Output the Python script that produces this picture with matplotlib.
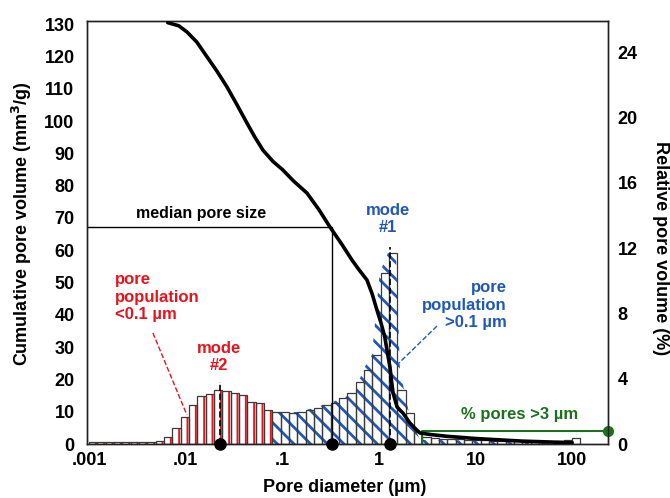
import numpy as np
import matplotlib
matplotlib.use("Agg")
import matplotlib.pyplot as plt

plt.rcParams['font.family'] = ['Liberation Sans', 'DejaVu Sans']
plt.rcParams['font.weight'] = 'bold'
plt.rcParams['axes.labelweight'] = 'bold'

RED = '#e8141c'
BLUE = '#1f58b8'
GREEN = '#1e701e'

# cumulative intrusion curve (pore diameter um, mm3/g)
curve_d = [0.0065, 0.0085, 0.0103, 0.013, 0.0166, 0.021, 0.0267, 0.034, 0.043,
           0.052, 0.063, 0.08, 0.101, 0.13, 0.18, 0.24, 0.311, 0.42, 0.525,
           0.62, 0.751, 0.85, 0.953, 1.05, 1.15, 1.22, 1.30, 1.35, 1.40,
           1.54, 1.65, 1.77, 2.09, 2.3, 2.66, 3.5, 5.0, 10.0, 30.0, 100.0]
curve_v = [130.5, 129.5, 127.6, 124.5, 119.9, 115.5, 110.6, 105.0, 99.4,
           95.0, 91.0, 87.5, 84.9, 81.5, 77.7, 72.5, 67.2, 61.5, 57.0,
           54.0, 50.8, 46.5, 41.5, 37.5, 33.1, 28.5, 23.8, 19.5, 15.8,
           11.5, 10.5, 9.6, 6.5, 5.2, 3.4, 2.9, 2.4, 1.7, 0.9, 0.4]

# relative pore volume histogram (%), log bins starting at 0.001 um
bins_per_decade = 11.6
rel_vol = [0.1, 0.1, 0.1, 0.12, 0.12, 0.12, 0.15, 0.15, 0.2,
           0.45, 0.98, 1.67, 2.39, 2.94, 3.06, 3.31, 3.26, 3.12, 3.0,
           2.59, 2.51, 2.08, 1.98, 1.98, 1.92, 1.98, 2.08, 2.2, 2.39,
           2.51, 2.82, 3.12, 3.82, 4.53, 5.45, 10.5, 11.7, 3.31, 1.9, 0.73,
           0.4, 0.35, 0.3, 0.3, 0.28, 0.25, 0.25, 0.22, 0.2, 0.2,
           0.2, 0.18, 0.18, 0.15, 0.15, 0.15, 0.18, 0.25, 0.35]
split_d = 0.08

# outline of the blue hatched population (>0.1 um)
env_d = [0.0782, 0.152, 0.311, 0.565, 0.683, 0.846, 1.02, 1.24, 1.50,
         1.65, 2.09, 2.66, 17.9, 102.0]
env_v = [1.96, 1.96, 2.51, 3.12, 4.53, 5.45, 10.5, 11.7, 11.7,
         4.5, 1.65, 0.25, 0.2, 0.15]

median_d = 0.326
median_v = 67.2
mode1_d, mode1_top = 1.30, 61.0
mode2_d, mode2_top = 0.0226, 19.3
big_d = 2.8
big_pct = 0.8

xticks = [0.001, 0.01, 0.1, 1, 10, 100]
xticklabels = ['.001', '.01', '.1', '1', '10', '100']

fig = plt.figure(figsize=(6.7, 4.98), dpi=100)
ax = fig.add_axes([87 / 670, 54 / 498, 521 / 670, 423 / 498])
ax.set_xscale('log')
ax2 = ax.twinx()
ax.set_zorder(ax2.get_zorder() + 1)
ax.patch.set_visible(False)

xmax = 235
ax.set_xlim(0.00095, xmax)
ax.set_ylim(0, 131)
ax2.set_ylim(0, 25.9)

# histogram
n = len(rel_vol)
edges = 10 ** (-3 + np.arange(n + 1) / bins_per_decade)
lefts = edges[:-1]
widths = np.diff(edges)
heights = np.array(rel_vol)
red_mask = edges[1:] <= split_d

plt.rcParams['hatch.linewidth'] = 1.4
ax2.bar(lefts[red_mask], heights[red_mask], width=widths[red_mask], align='edge',
        fill=False, hatch='||', edgecolor=RED, linewidth=0)
plt.rcParams['hatch.linewidth'] = 2.0
ax2.fill_between(env_d, env_v, 0, facecolor='none', edgecolor=BLUE,
                 hatch='\\\\', linewidth=0)
ax2.bar(lefts, heights, width=widths, align='edge', fill=False,
        edgecolor='#3a3a3a', linewidth=0.9)

# % pores > 3 um
ax2.plot([big_d, big_d, xmax], [0, big_pct, big_pct], color=GREEN, lw=1.5)
ax2.plot([xmax], [big_pct], 'o', color=GREEN, ms=7, clip_on=False, zorder=5)

# cumulative curve and median
ax.plot(curve_d, curve_v, color='black', lw=2.6, solid_capstyle='round',
        solid_joinstyle='round', zorder=4)
ax.plot([0.00095, median_d, median_d], [median_v, median_v, 0], color='black', lw=1.0)
ax.plot([mode2_d, mode2_d], [0, mode2_top], color='black', lw=1.2, ls='--')
ax.plot([mode1_d, mode1_d], [0, mode1_top], color='black', lw=1.2, ls='--')
ax.plot([mode2_d, median_d, mode1_d], [0, 0, 0], 'o', color='black', ms=8,
        clip_on=False, zorder=6)

# annotations
ax.text(0.01436, 71.5, 'median pore size', fontsize=11.5, ha='center', va='center')
ax.text(0.00185, 45.5, 'pore\npopulation\n<0.1 µm', color=RED, fontsize=12,
        ha='left', va='center', multialignment='left')
ax.plot([0.00457, 0.01028], [34.4, 9.0], color=RED, lw=1.0, ls='--')
ax.text(0.0221, 26.9, 'mode\n#2', color=RED, fontsize=12, ha='center', va='center')
ax.text(1.24, 69.7, 'mode\n#1', color=BLUE, fontsize=12, ha='center', va='center')
ax.text(21.1, 43.0, 'pore\npopulation\n>0.1 µm', color=BLUE, fontsize=12,
        ha='right', va='center', multialignment='right')
ax.plot([3.98, 1.54], [36.5, 24.5], color=BLUE, lw=1.0, ls='--')
ax.text(28.8, 9.0, '% pores >3 µm', color=GREEN, fontsize=12, ha='center', va='center')

# axes
ax.set_xticks(xticks)
ax.set_xticklabels(xticklabels)
ax.xaxis.set_minor_locator(matplotlib.ticker.NullLocator())
ax.set_yticks(np.arange(0, 131, 10))
ax2.set_yticks(np.arange(0, 25, 4))
ax.tick_params(axis='x', length=0, pad=6, labelsize=13)
ax.tick_params(axis='y', length=0, pad=9, labelsize=13)
ax2.tick_params(axis='y', length=0, pad=7, labelsize=13)

ax.set_xlabel('Pore diameter (µm)', fontsize=13, va='center')
ax.xaxis.set_label_coords(0.495, -0.102)
ax.set_ylabel('Cumulative pore volume (mm$^3$/g)', fontsize=13, va='center')
ax.yaxis.set_label_coords(-0.125, 0.52)
ax2.set_ylabel('Relative pore volume (%)', fontsize=13, rotation=270, va='center')
ax2.yaxis.set_label_coords(1.1, 0.463)

for a in (ax, ax2):
    for s in a.spines.values():
        s.set_linewidth(1.0)
        s.set_color('#222222')

fig.savefig('out.png', dpi=100)
